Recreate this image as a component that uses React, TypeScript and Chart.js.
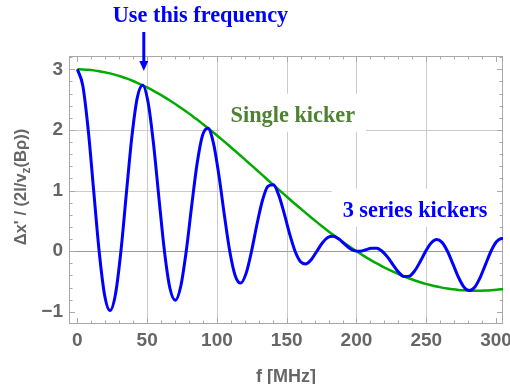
import React, { useEffect, useRef } from "react";
import { Chart, registerables } from "chart.js";

Chart.register(...registerables);

// Frequency samples [MHz]
const FREQ = [
  0, 3.9, 7.8, 11.7, 15.6, 19.5, 23.4, 27.3, 31.2, 35.1, 39.0, 42.9, 46.8,
  50.7, 54.6, 58.5, 62.4, 66.3, 70.2, 74.1, 78.0, 81.9, 85.8, 89.7, 93.6,
  97.5, 101.4, 105.3, 109.2, 113.1, 117.0, 120.9, 124.8, 128.7, 132.6, 136.5,
  140.4, 144.3, 148.2, 152.1, 156.0, 159.9, 163.8, 167.7, 171.6, 175.5, 179.4,
  183.3, 187.2, 191.1, 195.0, 198.9, 202.8, 206.7, 210.6, 214.5, 218.4, 222.3,
  226.2, 230.1, 234.0, 237.9, 241.8, 245.7, 249.6, 253.5, 257.4, 261.3, 265.2,
  269.1, 273.0, 276.9, 280.8, 284.7, 288.6, 292.5, 296.4, 300.3, 304.2, 305,
];

// Single kicker response
const SINGLE_KICKER = [
  3.0, 2.998, 2.993, 2.983, 2.970, 2.953, 2.933, 2.909, 2.881, 2.850, 2.816,
  2.778, 2.737, 2.693, 2.646, 2.595, 2.542, 2.486, 2.428, 2.367, 2.304, 2.238,
  2.171, 2.101, 2.030, 1.957, 1.883, 1.808, 1.731, 1.653, 1.575, 1.495, 1.416,
  1.336, 1.256, 1.175, 1.095, 1.016, 0.937, 0.858, 0.780, 0.704, 0.628, 0.553,
  0.480, 0.409, 0.339, 0.270, 0.204, 0.139, 0.077, 0.017, -0.041, -0.097,
  -0.150, -0.201, -0.249, -0.295, -0.338, -0.378, -0.416, -0.450, -0.482,
  -0.511, -0.538, -0.561, -0.582, -0.600, -0.615, -0.628, -0.638, -0.645,
  -0.649, -0.652, -0.651, -0.648, -0.643, -0.636, -0.627, -0.625,
];

// 3 series kickers response
const THREE_KICKERS = [
  3.0, 2.730, 1.995, 0.994, 0.0, -0.721, -0.978, -0.710, 0.0, 0.950, 1.877,
  2.530, 2.737, 2.452, 1.764, 0.865, 0.0, -0.607, -0.809, -0.578, 0.0, 0.746,
  1.447, 1.914, 2.030, 1.783, 1.255, 0.603, 0.0, -0.403, -0.525, -0.365, 0.0,
  0.445, 0.837, 1.070, 1.095, 0.925, 0.624, 0.286, 0.0, -0.172, -0.209, -0.135,
  0.0, 0.136, 0.226, 0.246, 0.204, 0.127, 0.051, 0.006, 0.0, 0.024, 0.050,
  0.049, 0.0, -0.098, -0.225, -0.344, -0.416, -0.410, -0.321, -0.170, 0.0,
  0.137, 0.194, 0.146, 0.0, -0.209, -0.425, -0.587, -0.649, -0.593, -0.434,
  -0.216, 0.0, 0.155, 0.209, 0.206,
];

const X_TICKS = [0, 50, 100, 150, 200, 250, 300];
const Y_TICKS = [-1, 0, 1, 2, 3];
const X_GRID = [50, 100, 150, 200, 250];
const Y_GRID = [1, 2];

const TITLE_TEXT = "Use this frequency";
const SINGLE_LABEL = "Single kicker";
const SERIES_LABEL = "3 series kickers";
const X_TITLE = "f [MHz]";
const ARROW_FREQ = 47.6;

const SANS = "'Liberation Sans', Arial, sans-serif";
const SERIF = "'Liberation Serif', 'Times New Roman', serif";
const FRAME = "#a9a9a9";
const GRID = "#cbcbcb";
const LABEL_GRAY = "#666666";

function drawBoxedLabel(ctx: CanvasRenderingContext2D, text: string, cx: number, baseline: number, color: string) {
  ctx.font = `bold 22.3px ${SERIF}`;
  const w = ctx.measureText(text).width;
  ctx.fillStyle = "#ffffff";
  ctx.fillRect(cx - w / 2 - 11, baseline - 28, w + 22, 38);
  ctx.fillStyle = color;
  ctx.textAlign = "center";
  ctx.textBaseline = "alphabetic";
  ctx.fillText(text, cx, baseline);
}

const decorPlugin = {
  id: "decor",
  beforeDatasetsDraw(chart: any) {
    const { ctx, chartArea, scales } = chart;
    const { left, right, top, bottom } = chartArea;
    const xs = scales.x;
    const ys = scales.y;
    ctx.save();
    ctx.lineWidth = 1;
    ctx.strokeStyle = GRID;
    for (const g of X_GRID) {
      const px = Math.round(xs.getPixelForValue(g)) + 0.5;
      ctx.beginPath();
      ctx.moveTo(px, top);
      ctx.lineTo(px, bottom);
      ctx.stroke();
    }
    for (const g of Y_GRID) {
      const py = Math.round(ys.getPixelForValue(g)) + 0.5;
      ctx.beginPath();
      ctx.moveTo(left, py);
      ctx.lineTo(right, py);
      ctx.stroke();
    }
    ctx.strokeStyle = "#9c9c9c";
    const p0 = Math.round(ys.getPixelForValue(0)) + 0.5;
    ctx.beginPath();
    ctx.moveTo(left, p0);
    ctx.lineTo(right, p0);
    ctx.stroke();

    // label boxes (white backgrounds)
    drawBoxedLabel(ctx, SINGLE_LABEL, xs.getPixelForValue(154.4), ys.getPixelForValue(2.135), "#4e8232");
    drawBoxedLabel(ctx, SERIES_LABEL, xs.getPixelForValue(242), ys.getPixelForValue(0.57), "#0000ff");

    // frame
    ctx.strokeStyle = FRAME;
    ctx.lineWidth = 1;
    ctx.strokeRect(Math.round(left) + 0.5, Math.round(top) + 0.5, Math.round(right - left) - 1, Math.round(bottom - top) - 1);

    // ticks
    const major = 6;
    const minor = 3.5;
    for (let v = 0; v <= 300; v += 10) {
      const px = Math.round(xs.getPixelForValue(v)) + 0.5;
      const len = v % 50 === 0 ? major : minor;
      ctx.beginPath();
      ctx.moveTo(px, bottom);
      ctx.lineTo(px, bottom - len);
      ctx.moveTo(px, top);
      ctx.lineTo(px, top + len);
      ctx.stroke();
    }
    for (let i = -5; i <= 16; i++) {
      const v = i * 0.2;
      const py = Math.round(ys.getPixelForValue(v)) + 0.5;
      const len = i % 5 === 0 ? major : minor;
      ctx.beginPath();
      ctx.moveTo(left, py);
      ctx.lineTo(left + len, py);
      ctx.moveTo(right, py);
      ctx.lineTo(right - len, py);
      ctx.stroke();
    }
    ctx.restore();
  },
  afterDraw(chart: any) {
    const { ctx, chartArea, scales } = chart;
    const xs = scales.x;
    ctx.save();
    // title
    ctx.font = `bold 22.3px ${SERIF}`;
    ctx.fillStyle = "#0000ff";
    ctx.textAlign = "center";
    ctx.textBaseline = "alphabetic";
    ctx.fillText(TITLE_TEXT, 200.5, 21.5);
    // arrow
    const ax = xs.getPixelForValue(ARROW_FREQ);
    ctx.fillRect(ax - 1.5, 32, 3, 31);
    ctx.beginPath();
    ctx.moveTo(ax - 4.5, 61);
    ctx.lineTo(ax + 4.5, 61);
    ctx.lineTo(ax, 71);
    ctx.closePath();
    ctx.fill();

    // x title
    ctx.font = `bold 18px ${SANS}`;
    ctx.fillStyle = LABEL_GRAY;
    ctx.fillText(X_TITLE, (chartArea.left + chartArea.right) / 2, 382);

    // y title with subscript
    ctx.translate(26, 187);
    ctx.rotate(-Math.PI / 2);
    const main = `bold 16.5px ${SANS}`;
    const sub = `bold 12px ${SANS}`;
    const parts: [string, string, number][] = [
      ["\u0394x' / (2l/v", main, 0],
      ["z", sub, 4],
      ["(B\u03c1))", main, 0],
    ];
    let total = 0;
    for (const [t, f] of parts) {
      ctx.font = f;
      total += ctx.measureText(t).width;
    }
    let cx = -total / 2;
    ctx.textAlign = "left";
    for (const [t, f, dy] of parts) {
      ctx.font = f;
      ctx.fillText(t, cx, dy);
      cx += ctx.measureText(t).width;
    }
    ctx.restore();
  },
};

export default function App() {
  const ref = useRef<HTMLCanvasElement | null>(null);
  useEffect(() => {
    if (!ref.current) return;
    const chart = new Chart(ref.current, {
      type: "line",
      data: {
        datasets: [
          {
            label: "3 series kickers",
            data: FREQ.map((f, i) => ({ x: f, y: THREE_KICKERS[i] })),
            borderColor: "#0000ff",
            borderWidth: 3,
            pointRadius: 0,
            cubicInterpolationMode: "monotone",
            fill: false,
          },
          {
            label: "Single kicker",
            data: FREQ.map((f, i) => ({ x: f, y: SINGLE_KICKER[i] })),
            borderColor: "#00aa00",
            borderWidth: 2.5,
            pointRadius: 0,
            cubicInterpolationMode: "monotone",
            fill: false,
          },
        ],
      },
      options: {
        responsive: false,
        animation: false,
        events: [],
        layout: { padding: { left: 0, top: 56, right: 7, bottom: 0 } },
        plugins: { legend: { display: false }, tooltip: { enabled: false } },
        scales: {
          x: {
            type: "linear",
            min: -6,
            max: 305,
            grid: { display: false, drawTicks: false },
            border: { display: false },
            afterBuildTicks: (s: any) => {
              s.ticks = X_TICKS.map((v) => ({ value: v }));
            },
            afterFit: (s: any) => {
              s.height = 60;
              s.paddingLeft = 0;
              s.paddingRight = 0;
            },
            ticks: {
              padding: 5,
              maxRotation: 0,
              autoSkip: false,
              color: LABEL_GRAY,
              font: { family: SANS, size: 19, weight: "bold" },
              callback: (v: any) => String(v),
            },
          },
          y: {
            type: "linear",
            min: -1.2,
            max: 3.22,
            grid: { display: false, drawTicks: false },
            border: { display: false },
            afterBuildTicks: (s: any) => {
              s.ticks = Y_TICKS.map((v) => ({ value: v }));
            },
            afterFit: (s: any) => {
              s.width = 69;
              s.paddingTop = 0;
              s.paddingBottom = 0;
            },
            ticks: {
              padding: 6,
              autoSkip: false,
              color: LABEL_GRAY,
              font: { family: SANS, size: 19, weight: "bold" },
              callback: (v: any) => (v < 0 ? "\u2212" + Math.abs(v) : String(v)),
            },
          },
        },
      },
      plugins: [decorPlugin],
    } as any);
    return () => chart.destroy();
  }, []);
  return (
    <div style={{ position: "fixed", left: 0, top: 0, width: 510, height: 384, background: "#fff" }}>
      <canvas ref={ref} width={510} height={384} style={{ display: "block" }} />
    </div>
  );
}
